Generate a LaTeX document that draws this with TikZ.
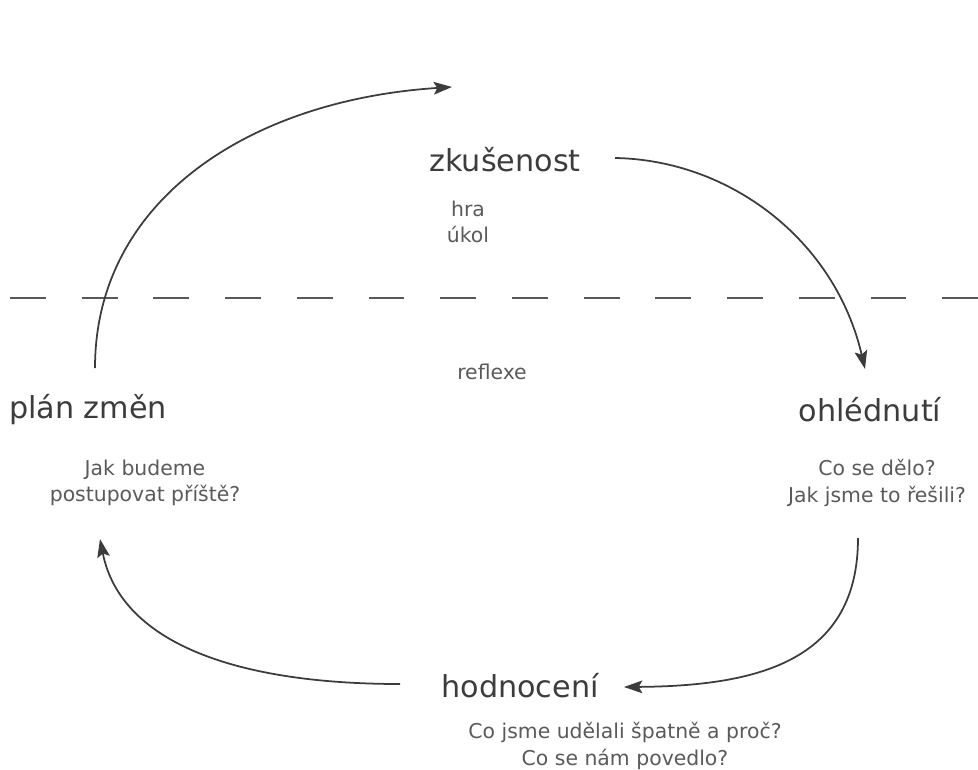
\documentclass[tikz,border=0pt]{standalone}
\usepackage{fontspec}
\setmainfont{DejaVu Sans}
\usepackage{xcolor}
\usepackage{tikz}
\usetikzlibrary{arrows.meta}
\definecolor{ink_c}{RGB}{60,60,60}
\definecolor{note_c}{RGB}{90,90,90}

\begin{document}
\begin{tikzpicture}[
  x=0.025cm, y=-0.025cm,
  stage/.style={font=\fontsize{21.5}{26}\selectfont, text=ink_c, inner sep=0pt},
  note/.style={font=\fontsize{14.5}{19}\selectfont, text=note_c, align=center, inner sep=0pt},
  cyc/.style={-{Stealth[length=13pt,width=9pt,inset=2.5pt]}, ink_c, line width=1.25pt},
  sep/.style={ink_c!85, line width=1.3pt, dash pattern=on 25.5pt off 25.5pt},
]
\useasboundingbox (0,0) rectangle (978,769);
% stages of the cycle
\node[stage] (exp)  at (505,160) {zkušenost};
\node[note]  (expn) at (468,222) {hra\\úkol};
\node[note]  (refl) at (492,372) {reflexe};
\node[stage] (look)  at (870,410) {ohlédnutí};
\node[note]  (lookn) at (877,483) {Co se dělo?\\Jak jsme to řešili?};
\node[stage] (eval)  at (520,686) {hodnocení};
\node[note]  (evaln) at (625,746) {Co jsme udělali špatně a proč?\\Co se nám povedlo?};
\node[stage] (plan)  at (88,410) {plán změn};
\node[note]  (plann) at (145,483) {Jak budeme\\postupovat příště?};
% arrow ends
\coordinate (planout) at (95,368);
\coordinate (expin)   at (452,87);
\coordinate (expout)  at (615,158);
\coordinate (lookin)  at (865,369);
\coordinate (lookout) at (858,538);
\coordinate (evalin)  at (624,687);
\coordinate (evalout) at (400,684);
\coordinate (planin)  at (100,539);
% border between experience and reflection
\coordinate (sepw) at (10,298);
\coordinate (sepe) at (978,298);
\draw[sep] (sepw) -- (sepe);
\draw[cyc] (planout) .. controls (95,200) and (250,100) .. (expin);
\draw[cyc] (expout) .. controls (730,160) and (835,240) .. (lookin);
\draw[cyc] (lookout) .. controls (858,660) and (760,686) .. (evalin);
\draw[cyc] (evalout) .. controls (230,684) and (120,640) .. (planin);
\end{tikzpicture}
\end{document}
